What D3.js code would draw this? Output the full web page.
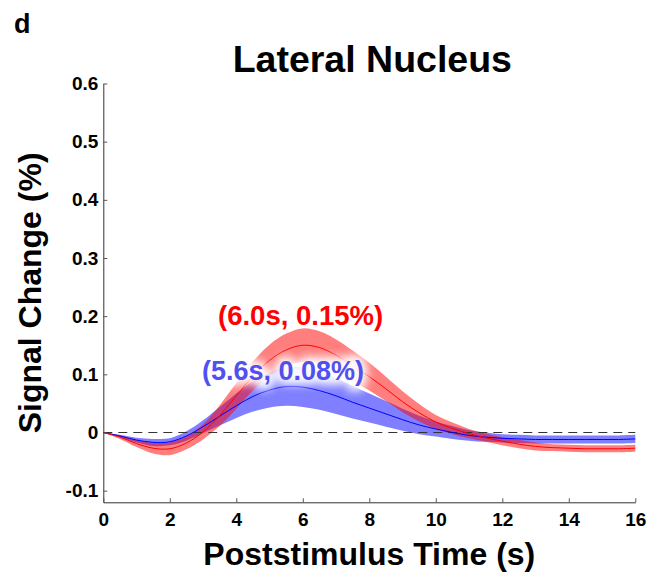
<!DOCTYPE html>
<html>
<head>
<meta charset="utf-8">
<script src="https://cdn.jsdelivr.net/npm/d3@7"></script>
<style>
body { margin: 0; background: #fff; }
svg { display: block; font-family: "Liberation Sans", Arial, Helvetica, sans-serif; font-weight: bold; }
</style>
</head>
<body>
<svg id="chart" width="661" height="576"></svg>
<script>
// time points (s)
var times = [0,0.5,1,1.5,2,2.5,3,3.5,4,4.5,5,5.5,6,6.5,7,7.5,8,8.5,9,9.5,10,10.5,11,11.5,12,12.5,13,13.5,14,14.5,15,15.5,16];

// red series, mean and half band (%)
var redMean = [0,-0.008,-0.019,-0.027,-0.028,-0.018,0.001,0.029,0.063,0.097,0.124,0.142,0.150,0.146,0.133,0.115,0.096,0.075,0.053,0.034,0.018,0.007,-0.002,-0.009,-0.015,-0.020,-0.024,-0.026,-0.027,-0.028,-0.028,-0.028,-0.027];
var redErr  = [0,0.003,0.006,0.009,0.011,0.011,0.013,0.018,0.022,0.025,0.027,0.028,0.029,0.028,0.027,0.026,0.024,0.021,0.018,0.015,0.012,0.010,0.008,0.007,0.007,0.007,0.007,0.006,0.006,0.006,0.006,0.006,0.006];

// blue series
var blueMean = [0,-0.006,-0.013,-0.017,-0.016,-0.006,0.010,0.028,0.046,0.062,0.073,0.079,0.078,0.072,0.063,0.052,0.042,0.032,0.022,0.013,0.006,0.000,-0.005,-0.008,-0.010,-0.011,-0.012,-0.012,-0.012,-0.012,-0.012,-0.012,-0.011];
var blueErr  = [0,0.002,0.004,0.006,0.006,0.008,0.011,0.016,0.021,0.026,0.030,0.033,0.034,0.033,0.031,0.028,0.025,0.022,0.019,0.016,0.013,0.011,0.009,0.008,0.007,0.007,0.007,0.007,0.007,0.007,0.007,0.007,0.007];

var xTicks = [0,2,4,6,8,10,12,14,16];
var yTicks = [-0.1,0,0.1,0.2,0.3,0.4,0.5,0.6];

var svg = d3.select('#chart');
var plotLeft = 103.3, plotRight = 635.3, plotTop = 83.5, plotBottom = 502.3;

var x = d3.scaleLinear().domain([0,16]).range([plotLeft,plotRight]);
var y = d3.scaleLinear().domain([-0.12,0.6]).range([plotBottom,plotTop]);

function series(mean, err)
{
	return times.map((t,i) => ({t:t, m:mean[i], lo:mean[i]-err[i], hi:mean[i]+err[i]}));
}
var red = series(redMean, redErr);
var blue = series(blueMean, blueErr);

var curve = d3.curveCatmullRom.alpha(0.5);
var area = d3.area().x(d => x(d.t)).y0(d => y(d.lo)).y1(d => y(d.hi)).curve(curve);
var line = d3.line().x(d => x(d.t)).y(d => y(d.m)).curve(curve);

var defs = svg.append('defs');
defs.append('filter').attr('id','halo').attr('x','-20%').attr('y','-60%').attr('width','140%').attr('height','220%')
	.append('feGaussianBlur').attr('stdDeviation', 4);

// bands
svg.append('path').datum(blue).attr('d', area).attr('fill','#0000ff').attr('fill-opacity',0.5);
svg.append('path').datum(red).attr('d', area).attr('fill','#ff0000').attr('fill-opacity',0.5);

// zero line
svg.append('line')
	.attr('x1', x(0)).attr('x2', x(16)).attr('y1', y(0)).attr('y2', y(0))
	.attr('stroke','#333').attr('stroke-width',1).attr('stroke-dasharray','9,6');

// mean lines
svg.append('path').datum(blue).attr('d', line).attr('fill','none').attr('stroke','#0000ff').attr('stroke-width',1);
svg.append('path').datum(red).attr('d', line).attr('fill','none').attr('stroke','#ff0000').attr('stroke-width',1);

// axes
var yAxis = d3.axisLeft(y).tickValues(yTicks).tickSizeInner(-4).tickSizeOuter(0).tickPadding(5)
	.tickFormat(d => d === 0 ? '0' : d.toFixed(1));
var xAxis = d3.axisBottom(x).tickValues(xTicks).tickSizeInner(-4).tickSizeOuter(0).tickPadding(10)
	.tickFormat(d => String(d));

var gy = svg.append('g').attr('transform','translate(' + plotLeft + ',0)').call(yAxis);
var gx = svg.append('g').attr('transform','translate(0,' + plotBottom + ')').call(xAxis);
[gx, gy].forEach(g => {
	g.attr('font-size',19).attr('font-family',null);
	g.select('.domain').attr('stroke','#333');
	g.selectAll('.tick line').attr('stroke','#555');
	g.selectAll('.tick text').attr('fill','#000').attr('font-weight','bold');
});

// annotations
svg.append('text').attr('x',218).attr('y',325).attr('fill','#ff0000').attr('font-size',27.5)
	.text('(6.0s, 0.15%)');
svg.append('text').attr('x',202).attr('y',380).attr('fill','#fff').attr('stroke','#fff').attr('stroke-width',10)
	.attr('font-size',27).attr('filter','url(#halo)').attr('opacity',0.95)
	.text('(5.6s, 0.08%)');
svg.append('text').attr('x',202).attr('y',380).attr('fill','#5050f0').attr('font-size',27)
	.text('(5.6s, 0.08%)');

// titles
svg.append('text').attr('x',14).attr('y',33).attr('font-size',27).text('d');
svg.append('text').attr('x',(plotLeft+plotRight)/2 + 3).attr('y',72).attr('text-anchor','middle').attr('font-size',37.5)
	.text('Lateral Nucleus');
svg.append('text').attr('x',(plotLeft+plotRight)/2).attr('y',565).attr('text-anchor','middle').attr('font-size',32)
	.text('Poststimulus Time (s)');
svg.append('text').attr('transform','translate(41,' + (plotTop+plotBottom)/2 + ') rotate(-90)').attr('text-anchor','middle')
	.attr('font-size',32).text('Signal Change (%)');
</script>
</body>
</html>
